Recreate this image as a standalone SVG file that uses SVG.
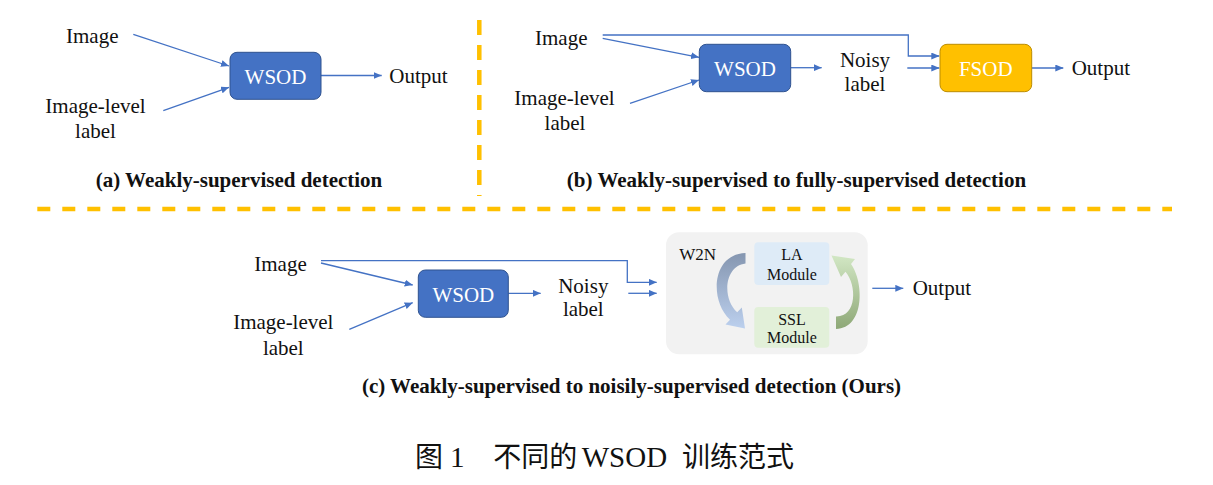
<svg xmlns="http://www.w3.org/2000/svg" width="1213" height="485" viewBox="0 0 1213 485">
<defs>
<style>
.t{font-family:"Liberation Serif","Times New Roman",serif;font-size:21px;fill:#111}
.m{text-anchor:middle}
.b{font-weight:bold}
.w{fill:#fff;font-size:21px}
.s{font-size:16px}
.ln{fill:none;stroke:#4472C4;stroke-width:1.3}
.ar{marker-end:url(#ah)}
.dash{fill:none;stroke:#FFC000;stroke-width:4.5}
.blue{fill:#4472C4;stroke:#2F528F;stroke-width:1}
.gold{fill:#FFC000;stroke:#BC8C00;stroke-width:1}
.cjk{font-family:"Noto Sans CJK SC",sans-serif;font-size:28px;fill:#111}
</style>
<marker id="ah" markerUnits="userSpaceOnUse" markerWidth="8" markerHeight="7" viewBox="0 0 8 7" refX="8" refY="3.5" orient="auto">
<path d="M0,0 L8,3.5 L0,7 z" fill="#4472C4"/>
</marker>
<linearGradient id="gb" x1="0" y1="0" x2="0" y2="1">
<stop offset="0" stop-color="#8596B0"/>
<stop offset="1" stop-color="#BCD0EE"/>
</linearGradient>
<linearGradient id="gg" x1="0" y1="1" x2="0" y2="0">
<stop offset="0" stop-color="#8EA877"/>
<stop offset="1" stop-color="#D2E7C4"/>
</linearGradient>
</defs>

<g id="separators">
<line class="dash" x1="479.3" y1="20" x2="479.3" y2="196" stroke-dasharray="15 10"/>
<line class="dash" x1="37.3" y1="209" x2="1172" y2="209" stroke-dasharray="13 12"/>
</g>

<g id="connectors">
<!-- (a) -->
<path class="ln ar" d="M133.3 34.3 L229 66"/>
<path class="ln ar" d="M163.3 110.7 L229 87.3"/>
<path class="ln ar" d="M321 75.5 L381.7 75.5"/>
<!-- (b) -->
<path class="ln ar" d="M602.7 35 H908.3 V56 H939.3"/>
<path class="ln ar" d="M602.7 38.3 L699 57.3"/>
<path class="ln ar" d="M630 103.3 L699 80"/>
<path class="ln ar" d="M790.7 67.7 L821.7 67.7"/>
<path class="ln ar" d="M907.3 68 L939.3 68"/>
<path class="ln ar" d="M1031.7 68 L1063.3 68"/>
<!-- (c) -->
<path class="ln ar" d="M321 260.7 H627.3 V282.3 H656.7"/>
<path class="ln ar" d="M321 263 L412.7 285"/>
<path class="ln ar" d="M349.3 329.3 L412.7 302.7"/>
<path class="ln ar" d="M508.3 293.3 L540.7 293.3"/>
<path class="ln ar" d="M628.3 293.3 L656.7 293.3"/>
<path class="ln ar" d="M872.3 288.3 L903.3 288.3"/>
</g>

<!-- (a) -->
<g id="a-image"><text class="t" x="66" y="43">Image</text></g>
<g id="a-label"><text class="t m" x="95.5" y="112.7">Image-level</text><text class="t m" x="95.5" y="137.7">label</text></g>
<g id="a-wsod"><rect class="blue" x="230" y="52.3" width="91" height="47" rx="7"/><text class="t w m" x="275.5" y="83.5">WSOD</text></g>
<g id="a-output"><text class="t" x="389.3" y="82.5">Output</text></g>
<g id="a-caption"><text class="t b m" x="239" y="186.7">(a) Weakly-supervised detection</text></g>

<!-- (b) -->
<g id="b-image"><text class="t" x="535" y="45">Image</text></g>
<g id="b-label"><text class="t m" x="564.5" y="105">Image-level</text><text class="t m" x="565" y="130">label</text></g>
<g id="b-wsod"><rect class="blue" x="699.3" y="44.3" width="91.4" height="47.4" rx="7"/><text class="t w m" x="745" y="76">WSOD</text></g>
<g id="b-noisy"><text class="t m" x="865" y="66.7">Noisy</text><text class="t m" x="865" y="91">label</text></g>
<g id="b-fsod"><rect class="gold" x="940" y="44.3" width="91.7" height="47.4" rx="7"/><text class="t w m" x="985.8" y="76">FSOD</text></g>
<g id="b-output"><text class="t" x="1071.7" y="75">Output</text></g>
<g id="b-caption"><text class="t b m" x="796.5" y="187">(b) Weakly-supervised to fully-supervised detection</text></g>

<!-- (c) -->
<g id="c-image"><text class="t" x="254.3" y="271">Image</text></g>
<g id="c-label"><text class="t m" x="283.3" y="329.3">Image-level</text><text class="t m" x="283.3" y="355">label</text></g>
<g id="c-wsod"><rect class="blue" x="418.3" y="270" width="90" height="47.3" rx="7"/><text class="t w m" x="463.3" y="301.7">WSOD</text></g>
<g id="c-noisy"><text class="t m" x="583.3" y="293.3">Noisy</text><text class="t m" x="583.3" y="316">label</text></g>
<g id="c-w2n">
<rect x="666" y="232.3" width="201.7" height="122" rx="13" fill="#F2F2F2"/>
<text class="t" x="679.3" y="260" style="font-size:17px">W2N</text>
<path fill="url(#gb)" d="M745.5 253 C712 254 709 300 730 319.8 L725.5 324.5 L745 328.5 L741.8 307.5 L737.2 312.2 C722 299 724 266 745.5 263.5 Z"/>
<path fill="url(#gg)" d="M836 329 C865 328 864 282 851 264 L855 259 L831.5 255.5 L841 277 L845.5 271.8 C857 285 857 317 836 316.5 Z"/>
</g>
<g id="c-la"><rect x="754.3" y="242.3" width="75" height="42.7" rx="4" fill="#DEEBF7"/><text class="t s m" x="792" y="260.3">LA</text><text class="t s m" x="792" y="280">Module</text></g>
<g id="c-ssl"><rect x="754.3" y="307" width="75" height="40.7" rx="4" fill="#E2F0D9"/><text class="t s m" x="792" y="325">SSL</text><text class="t s m" x="792" y="343.3">Module</text></g>
<g id="c-output"><text class="t" x="912.7" y="295">Output</text></g>
<g id="c-caption"><text class="t b m" x="631.5" y="393">(c) Weakly-supervised to noisily-supervised detection (Ours)</text></g>

<g id="figure-caption">
<text class="cjk" x="415" y="466.7">图</text>
<text class="t" x="450" y="466.7" style="font-size:29px">1</text>
<text class="cjk" x="493.3" y="466.7">不同的</text>
<text class="t" x="581.7" y="466.7" style="font-size:29px">WSOD</text>
<text class="cjk" x="682" y="466.7">训练范式</text>
</g>
</svg>
